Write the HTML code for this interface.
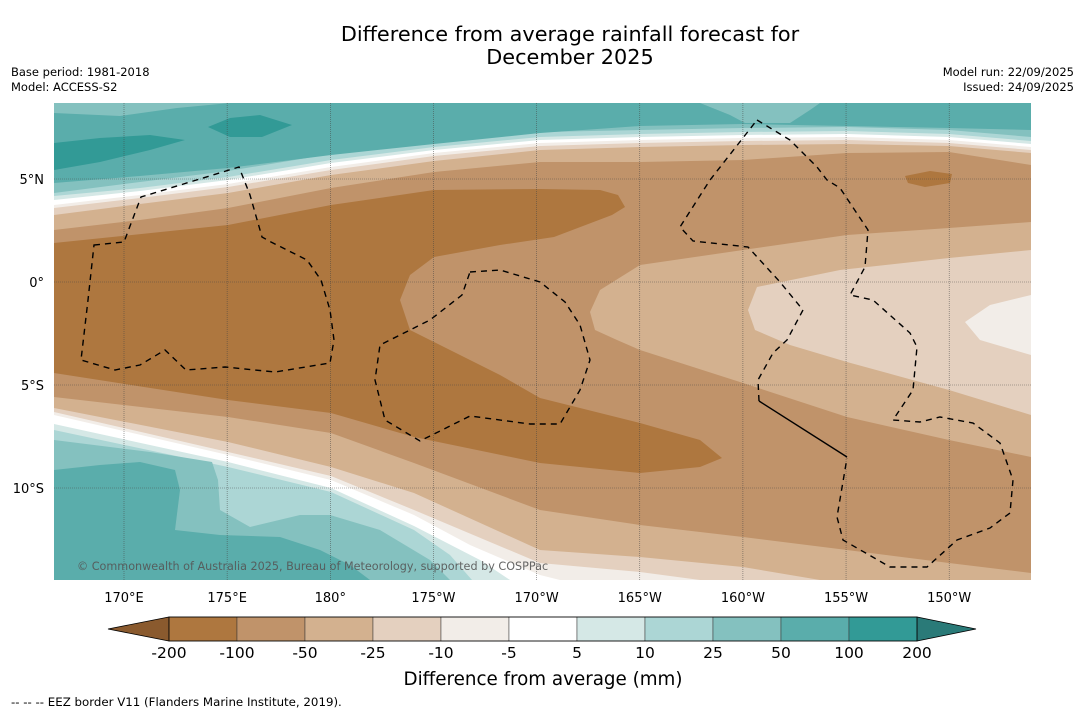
<!DOCTYPE html>
<html><head><meta charset="utf-8">
<style>
body{margin:0;background:#fff;width:1085px;height:713px;overflow:hidden;font-family:"Liberation Sans","DejaVu Sans",sans-serif;}
svg text{font-family:"DejaVu Sans","Liberation Sans",sans-serif;}
</style></head>
<body>
<svg id="chart" width="1085" height="713" viewBox="0 0 1085 713">
<text x="570" y="41" font-size="20.8" text-anchor="middle">Difference from average rainfall forecast for</text>
<text x="570" y="64" font-size="20.8" text-anchor="middle">December 2025</text>
<text x="11" y="76" font-size="11.5">Base period: 1981-2018</text>
<text x="11" y="91" font-size="11.5">Model: ACCESS-S2</text>
<text x="1074" y="76" font-size="11.5" text-anchor="end">Model run: 22/09/2025</text>
<text x="1074" y="91" font-size="11.5" text-anchor="end">Issued: 24/09/2025</text>

<defs><clipPath id="mapclip"><rect x="54" y="103" width="977" height="477"/></clipPath></defs>
<g clip-path="url(#mapclip)">
<rect x="54" y="103" width="977" height="477" fill="#c0936a"/>
<path fill="#d3b18f" d="M54,103 L1031,103 L1031,165 L949,152 L847,153 L743,160 L640,162 L540,162 L434,172 L331,188 L228,208 L140,220 L54,230 Z"/>
<path fill="#e4d0bf" d="M54,103 L1031,103 L1031,153 L949,146 L847,144 L743,145 L640,147 L540,150 L434,161 L331,175 L228,193 L140,204 L54,215 Z"/>
<path fill="#f2ede8" d="M54,103 L1031,103 L1031,150 L949,143 L847,140 L743,141 L640,143 L540,146 L434,156 L331,170 L228,187 L140,198 L54,208 Z"/>
<path fill="#ffffff" d="M54,103 L1031,103 L1031,147 L949,140 L847,137 L743,138 L640,140 L540,143 L434,153 L331,167 L228,184 L140,195 L54,205 Z"/>
<path fill="#d5e8e6" d="M54,103 L1031,103 L1031,144 L949,137 L847,134 L743,135 L640,137 L540,140 L434,150 L331,163 L228,180 L140,191 L54,200 Z"/>
<path fill="#acd6d5" d="M54,103 L1031,103 L1031,141 L949,134 L847,131 L743,132 L640,134 L540,137 L434,147 L331,160 L228,177 L140,188 L54,196 Z"/>
<path fill="#84c1bf" d="M54,103 L1031,103 L1031,137 L949,130 L847,127 L743,128 L640,130 L540,132 L434,141 L331,154 L228,171 L140,182 L54,193 Z"/>
<path fill="#5aadab" d="M54,113 L120,116 L177,108 L230,103 L700,103 L730,115 L745,123 L790,123 L810,110 L820,103 L1031,103 L1031,130 L949,128 L847,126 L743,124 L640,126 L540,133 L434,144 L331,155 L228,168 L140,176 L54,183 Z"/>
<path fill="#329a96" d="M54,143 L100,138 L150,135 L185,140 L150,150 L100,162 L54,170 Z"/>
<path fill="#329a96" d="M208,127 L230,118 L260,115 L292,125 L262,137 L230,137 Z"/>
<path fill="#d3b18f" d="M54,397 L228,417 L331,433 L414,463 L540,510 L640,525 L743,537 L847,550 L949,563 L1031,573 L1031,580 L54,580 Z"/>
<path fill="#e4d0bf" d="M54,408 L228,442 L331,467 L414,493 L540,550 L640,557 L743,567 L820,580 L54,580 Z"/>
<path fill="#f2ede8" d="M54,412 L228,452 L331,476 L414,510 L540,563 L640,572 L700,580 L54,580 Z"/>
<path fill="#ffffff" d="M54,415 L228,455 L331,480 L414,515 L470,545 L540,575 L560,580 L54,580 Z"/>
<path fill="#d5e8e6" d="M54,424 L228,462 L331,488 L414,526 L480,560 L510,580 L54,580 Z"/>
<path fill="#acd6d5" d="M54,430 L228,467 L331,492 L414,530 L450,555 L472,580 L54,580 Z"/>
<path fill="#84c1bf" d="M54,440 L150,452 L212,462 L218,480 L220,510 L250,527 L300,515 L330,515 L380,530 L430,560 L450,580 L54,580 Z"/>
<path fill="#5aadab" d="M54,470 L100,465 L140,462 L175,470 L180,490 L175,530 L220,535 L280,537 L320,550 L350,565 L370,580 L54,580 Z"/>
<path fill="#ae773f" d="M54,243 L228,225 L331,205 L434,190 L540,189 L600,190 L618,195 L625,207 L612,215 L554,237 L500,245 L434,257 L410,275 L400,300 L410,330 L450,350 L500,375 L540,398 L640,423 L700,440 L722,458 L700,467 L640,473 L540,463 L414,437 L331,413 L228,400 L54,373 Z"/>
<path fill="#ae773f" d="M905,176 L930,171 L952,174 L950,183 L925,187 L908,183 Z"/>
<path fill="#d3b18f" d="M1031,222 L949,228 L847,235 L743,250 L640,265 L600,290 L590,312 L595,330 L617,340 L640,350 L743,383 L847,417 L949,440 L1031,457 Z"/>
<path fill="#e4d0bf" d="M1031,250 L949,258 L840,270 L757,287 L748,310 L755,330 L790,345 L847,362 L949,390 L1031,415 Z"/>
<path fill="#f2ede8" d="M1031,295 L990,305 L965,322 L980,340 L1031,355 Z"/>
<g id="grid" stroke="#444" stroke-opacity="0.8" stroke-width="0.6" stroke-dasharray="1,1"></g>
<g fill="none" stroke="#000" stroke-width="1.4" stroke-dasharray="6,5">
<path d="M94,245 L124,242 L141,197 L239,167 L250,195 L262,237 L271,242 L307,260 L321,280 L330,310 L334,340 L330,363 L275,372 L225,367 L186,370 L165,350 L140,365 L115,370 L81,360 L88,300 Z"/>
<path d="M470,272 L500,270 L540,282 L565,302 L580,325 L590,360 L580,390 L560,424 L530,424 L470,416 L420,441 L385,420 L375,380 L380,345 L430,320 L462,295 Z"/>
<path d="M757,120 L790,140 L817,167 L827,180 L840,188 L868,230 L865,267 L850,295 L873,300 L910,333 L917,347 L913,390 L893,420 L920,422 L940,417 L973,423 L1000,443 L1013,480 L1010,513 L990,528 L957,540 L927,567 L890,567 L843,540 L837,517 L847,458"/>
<path d="M759,401 L758,380 L773,353 L787,340 L803,310 L780,282 L748,247 L693,241 L680,227 L710,180 L757,120"/>
</g>
<path d="M759,401 L847,457" stroke="#000" stroke-width="1.4" fill="none"/>
<text x="77" y="570" font-size="11.2" fill="#555" fill-opacity="0.9">© Commonwealth of Australia 2025, Bureau of Meteorology, supported by COSPPac</text>
</g>
<g id="axislabels" font-size="13"></g>
<g id="colorbar"></g>
<text x="543" y="685" font-size="18.3" text-anchor="middle">Difference from average (mm)</text>
<text x="11" y="706" font-size="11.8">--  --  -- EEZ border V11 (Flanders Marine Institute, 2019).</text>
</svg>
<script>
const lonLabels = ["170°E","175°E","180°","175°W","170°W","165°W","160°W","155°W","150°W"];
const lonValues = [170,175,180,185,190,195,200,205,210];
const latLabels = ["5°N","0°","5°S","10°S"];
const latValues = [5,0,-5,-10];
const levels = ["-200","-100","-50","-25","-10","-5","5","10","25","50","100","200"];
const levelColors = ["#ae773f","#c0936a","#d3b18f","#e4d0bf","#f2ede8","#ffffff","#d5e8e6","#acd6d5","#84c1bf","#5aadab","#329a96"];
const NS="http://www.w3.org/2000/svg";
const xLon = lon => 124 + (lon-170)*20.63;
const yLat = lat => 282 - lat*20.6;
const grid=document.getElementById('grid');
const ax=document.getElementById('axislabels');
lonValues.forEach((v,i)=>{
  const l=document.createElementNS(NS,'line');
  l.setAttribute('x1',xLon(v));l.setAttribute('x2',xLon(v));l.setAttribute('y1',103);l.setAttribute('y2',580);
  
  
  grid.appendChild(l);
  const t=document.createElementNS(NS,'text');
  t.setAttribute('x',xLon(v));t.setAttribute('y',602);t.setAttribute('text-anchor','middle');
  t.textContent=lonLabels[i];
  
  
  ax.appendChild(t);
});
latValues.forEach((v,i)=>{
  const l=document.createElementNS(NS,'line');
  l.setAttribute('x1',54);l.setAttribute('x2',1031);l.setAttribute('y1',yLat(v));l.setAttribute('y2',yLat(v));
  
  
  grid.appendChild(l);
  const t=document.createElementNS(NS,'text');
  t.setAttribute('x',44);t.setAttribute('y',yLat(v)+5);t.setAttribute('text-anchor','end');
  t.textContent=latLabels[i];
  
  
  ax.appendChild(t);
});
const cb=document.getElementById('colorbar');
const x0=169,x1=917,y0=617,h=24,n=levelColors.length;
const w=(x1-x0)/n;
const lt=document.createElementNS(NS,'polygon');
lt.setAttribute('points',`108,${y0+h/2} ${x0},${y0} ${x0},${y0+h}`);
lt.setAttribute('fill','#8a5a2e');lt.setAttribute('stroke','#000');lt.setAttribute('stroke-width','0.8');


cb.appendChild(lt);
const rt=document.createElementNS(NS,'polygon');
rt.setAttribute('points',`976,${y0+h/2} ${x1},${y0} ${x1},${y0+h}`);
rt.setAttribute('fill','#2a7a78');rt.setAttribute('stroke','#000');rt.setAttribute('stroke-width','0.8');


cb.appendChild(rt);
levelColors.forEach((c,i)=>{
  const r=document.createElementNS(NS,'rect');
  r.setAttribute('x',x0+i*w);r.setAttribute('y',y0);r.setAttribute('width',w);r.setAttribute('height',h);
  r.setAttribute('fill',c);r.setAttribute('stroke','#333');r.setAttribute('stroke-width','0.5');
  
  
  cb.appendChild(r);
});
const fr=document.createElementNS(NS,'rect');
fr.setAttribute('x',x0);fr.setAttribute('y',y0);fr.setAttribute('width',x1-x0);fr.setAttribute('height',h);
fr.setAttribute('fill','none');fr.setAttribute('stroke','#000');fr.setAttribute('stroke-width','0.8');


cb.appendChild(fr);
levels.forEach((lv,i)=>{
  const t=document.createElementNS(NS,'text');
  t.setAttribute('x',x0+i*w);t.setAttribute('y',658);t.setAttribute('text-anchor','middle');t.setAttribute('font-size','15.5');
  t.textContent=lv;
  
  
  cb.appendChild(t);
});
</script>
</body></html>
